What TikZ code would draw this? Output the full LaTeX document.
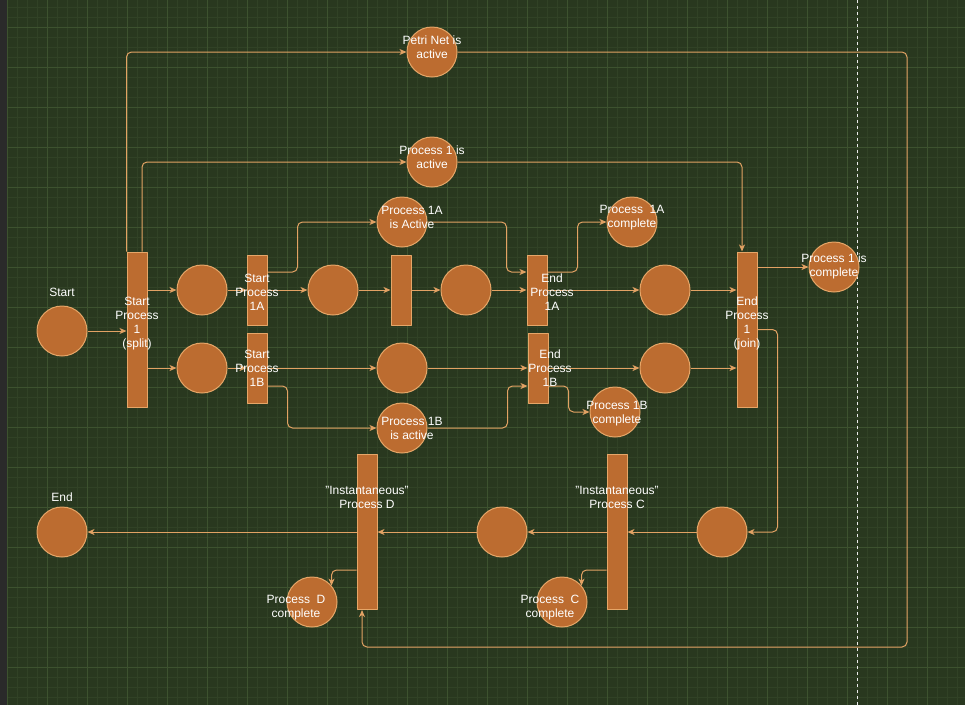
\documentclass[tikz,border=0pt]{standalone}
\usepackage{fontspec}
\setmainfont{Liberation Sans}
\usetikzlibrary{arrows.meta}
\definecolor{bggreen}{RGB}{41,56,31}
\definecolor{gridminor}{RGB}{49,66,38}
\definecolor{gridmajor}{RGB}{61,82,47}
\definecolor{sidegray}{RGB}{42,42,42}
\definecolor{pfill}{RGB}{188,108,48}
\definecolor{pline}{RGB}{230,166,104}
\definecolor{aline}{RGB}{226,162,100}
\begin{document}
\begin{tikzpicture}[x=1pt,y=-1pt,>={Stealth[length=7pt,width=6pt,inset=2pt]},line join=round,
	font=\fontsize{12}{14}\selectfont,
	place/.style={circle,draw=pline,fill=pfill,line width=1pt,minimum size=50pt,inner sep=0pt},
	trans/.style={rectangle,draw=pline,fill=pfill,line width=1pt,minimum width=20pt,inner sep=0pt},
	tlong/.style={trans,minimum height=155pt},
	tshort/.style={trans,minimum height=70pt},
	flow/.style={->,draw=aline,line width=1pt,rounded corners=5pt},
	txt/.style={text=white,align=center,inner sep=0pt}]
	\useasboundingbox (0,0) rectangle (965,705);
	% Nền và lưới
	\fill[bggreen] (0,0) rectangle (965,705);
	\fill[sidegray] (0,0) rectangle (7,705);
	\foreach \x in {7,17,...,965}
	\draw[gridminor] (\x,0) -- (\x,705);
	\foreach \y in {7,17,...,705}
	\draw[gridminor] (7,\y) -- (965,\y);
	\foreach \x in {7,47,...,965}
	\draw[gridmajor] (\x,0) -- (\x,705);
	\foreach \y in {27,67,...,705}
	\draw[gridmajor] (7,\y) -- (965,\y);
	\draw[white!85!gray,dash pattern=on 3pt off 3pt] (857,0) -- (857,705);
	
	% Các vị trí (place) và chuyển tiếp (transition)
	\node[place] (start) at (62,331) {};
	\node[tlong] (split) at (137,329.5) {};
	\node[place] (pa1) at (202,290) {};
	\node[place] (pb1) at (202,368) {};
	\node[tshort] (s1a) at (257,290) {};
	\node[tshort] (s1b) at (257,368) {};
	\node[place] (pa2) at (333,290) {};
	\node[tshort] (t1a) at (401,290) {};
	\node[place] (pa3) at (466,290) {};
	\node[place] (p1aact) at (402,222) {};
	\node[tshort] (e1a) at (537,290) {};
	\node[place] (pb2) at (402,368) {};
	\node[place] (p1bact) at (402,428) {};
	\node[tshort] (e1b) at (538,368) {};
	\node[place] (pa4) at (665,290) {};
	\node[place] (pb3) at (665,368) {};
	\node[place] (p1acomp) at (632,222) {};
	\node[place] (p1bcomp) at (615,412) {};
	\node[place] (petri) at (432,52) {};
	\node[place] (p1act) at (432,162) {};
	\node[tlong] (join) at (747,329.5) {};
	\node[place] (p1comp) at (834,267) {};
	\node[place] (pc0) at (722,532) {};
	\node[tlong] (procc) at (617,532) {};
	\node[place] (pc1) at (502,532) {};
	\node[tlong] (procd) at (367,532) {};
	\node[place] (endp) at (62,532) {};
	\node[place] (pccomp) at (562,602) {};
	\node[place] (pdcomp) at (312,602) {};
	\coordinate (rb) at (907,647);
	
	% Hàng 1A
	\draw[flow] (start) -- (start -| split.west);
	\draw[flow] (split.east |- pa1) -- (pa1);
	\draw[flow] (pa1) -- (s1a);
	\draw[flow] (s1a) -- (pa2);
	\draw[flow] (pa2) -- (t1a);
	\draw[flow] (t1a) -- (pa3);
	\draw[flow] (pa3) -- (e1a);
	\draw[flow] (e1a) -- (pa4);
	\draw[flow] (pa4) -- (pa4 -| join.west);
	\draw[flow] ([yshift=18]s1a.east) -- ++(30,0) |- (p1aact);
	\draw[flow] (p1aact) -| ([xshift=-20,yshift=18]e1a.west) -- ([yshift=18]e1a.west);
	\draw[flow] ([yshift=18]e1a.east) -- ++(30,0) |- (p1acomp);
	
	% Hàng 1B
	\draw[flow] (split.east |- pb1) -- (pb1);
	\draw[flow] (pb1) -- (s1b);
	\draw[flow] (s1b) -- (pb2);
	\draw[flow] (pb2) -- (e1b);
	\draw[flow] (e1b) -- (pb3);
	\draw[flow] (pb3) -- (pb3 -| join.west);
	\draw[flow] ([yshift=-18]s1b.east) -- ++(20,0) |- (p1bact);
	\draw[flow] (p1bact) -| ([xshift=-20,yshift=-18]e1b.west) -- ([yshift=-18]e1b.west);
	\draw[flow] ([yshift=-18]e1b.east) -- ++(20,0) |- (p1bcomp);
	
	% Process 1 và Petri Net
	\draw[flow] (split.north west) |- (petri);
	\draw[flow] ([xshift=5]split.north) |- (p1act);
	\draw[flow] (p1act) -| ([xshift=-5]join.north);
	\draw[flow] (join.east |- p1comp) -- (p1comp);
	\draw[flow] (petri) -| (rb) -| ([xshift=-5]procd.south);
	
	% Hàng dưới
	\draw[flow] (join.east) -- ++(20,0) |- (pc0);
	\draw[flow] (pc0) -- (procc);
	\draw[flow] (procc) -- (pc1);
	\draw[flow] (pc1) -- (procd);
	\draw[flow] (procd) -- (endp);
	\draw[flow] ([yshift=-38]procc.west) -| (pccomp.40);
	\draw[flow] ([yshift=-38]procd.west) -| (pdcomp.40);
	
	% Nhãn
	\node[txt] (starttxt) at ([yshift=39]start) {Start};
	\node[txt] (endtxt) at ([yshift=35]endp) {End};
	\node[txt] (splittxt) at ([yshift=6]split) {Start\\Process\\1\\(split)};
	\node[txt] (jointxt) at ([yshift=6]join) {End\\Process\\1\\(join)};
	\node[txt] (s1atxt) at ([yshift=-2]s1a) {Start\\Process\\1A};
	\node[txt] (s1btxt) at (s1b) {Start\\Process\\1B};
	\node[txt] (e1atxt) at ([xshift=15,yshift=-2]e1a) {End\\Process\\1A};
	\node[txt] (e1btxt) at ([xshift=12]e1b) {End\\Process\\1B};
	\node[txt] (procdtxt) at ([yshift=35]procd) {"Instantaneous"\\Process D};
	\node[txt] (procctxt) at ([yshift=35]procc) {"Instantaneous"\\Process C};
	\node[txt] (petritxt) at ([yshift=4.5]petri) {Petri Net is\\active};
	\node[txt] (p1acttxt) at ([yshift=4.5]p1act) {Process 1 is\\active};
	\node[txt] (p1aacttxt) at ([xshift=10,yshift=4.5]p1aact) {Process 1A\\is Active};
	\node[txt] (p1acomptxt) at ([yshift=4.5]p1acomp) {Process\ \ 1A\\complete};
	\node[txt] (p1comptxt) at ([yshift=1]p1comp) {Process 1 is\\complete};
	\node[txt] (p1bacttxt) at ([xshift=10]p1bact) {Process 1B\\is active};
	\node[txt] (p1bcomptxt) at ([xshift=2,yshift=-1.5]p1bcomp) {Process 1B\\complete};
	\node[txt] (pdcomptxt) at ([xshift=-16,yshift=-5.5]pdcomp) {Process\ \ D\\complete};
	\node[txt] (pccomptxt) at ([xshift=-12,yshift=-5.5]pccomp) {Process\ \ C\\complete};
\end{tikzpicture}
\end{document}
